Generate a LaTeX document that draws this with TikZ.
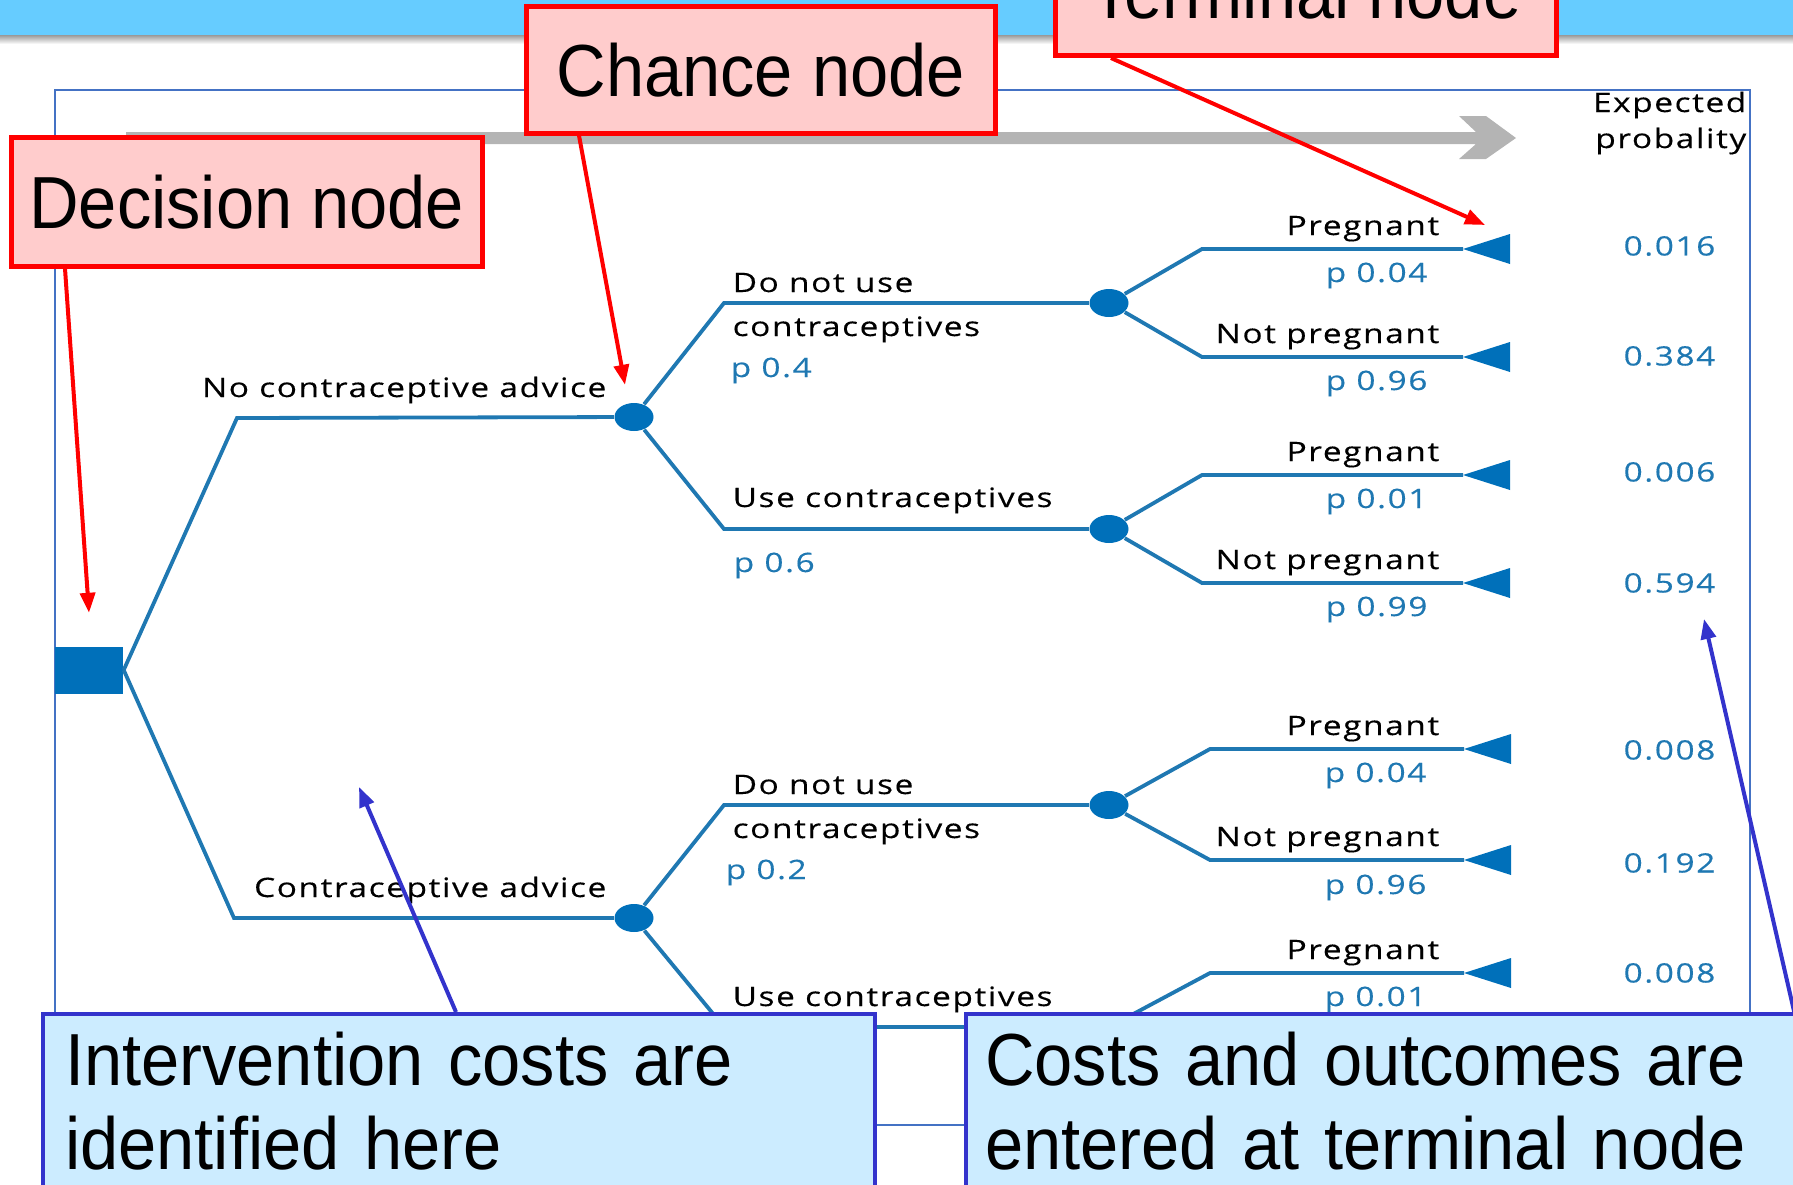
\documentclass[tikz,border=0pt]{standalone}
\usepackage{fontspec}
\setmainfont{Liberation Sans}
\newfontfamily\treefont[FakeStretch=1.25,LetterSpace=6,FakeBold=0.3]{Open Sans}
\newfontfamily\calloutfont[FakeStretch=0.93]{Liberation Sans}
\newcommand\treetext{\treefont\fontsize{7.6}{9}\selectfont}
\usetikzlibrary{shapes.geometric,arrows.meta}
\definecolor{bandblue}{RGB}{102,204,255}
\definecolor{treeblue}{RGB}{31,120,178}
\definecolor{nodeblue}{RGB}{0,112,186}
\definecolor{framebl}{RGB}{68,114,196}
\definecolor{arrowgray}{RGB}{180,180,180}
\definecolor{calloutred}{RGB}{255,204,204}
\definecolor{calloutblue}{RGB}{204,236,255}
\definecolor{borderblue}{RGB}{51,51,204}

\begin{document}
\begin{tikzpicture}
		[x=0.1mm, y=-0.1mm,
		branch/.style={draw=treeblue, line width=0.38mm},
		decision/.style={rectangle, fill=nodeblue, minimum width=6.8mm, minimum height=4.7mm, inner sep=0pt},
		chance/.style={ellipse, fill=nodeblue, minimum width=3.9mm, minimum height=2.8mm, inner sep=0pt},
		lbl/.style={font=\treetext, inner sep=0pt},
		prob/.style={lbl, text=treeblue},
		callout/.style={font=\calloutfont\fontsize{21}{23.9}\selectfont, inner sep=0pt},
		redbox/.style={callout, draw=red, fill=calloutred, line width=1.3pt},
		bluebox/.style={callout, draw=borderblue, fill=calloutblue, line width=1.2pt, align=left, anchor=north west},
		redarrow/.style={red, line width=0.4mm, -{Triangle[length=2mm,width=1.5mm]}},
		bluearrow/.style={borderblue, line width=0.4mm, -{Triangle[length=2mm,width=1.5mm]}}]
		\useasboundingbox (0,0) rectangle (1793,1185);
		\clip (0,0) rectangle (1793,1185);
		
		\fill[bandblue] (0,0) rectangle (1793,35);
		\shade[top color=black!40, bottom color=white] (0,35) rectangle (1793,44);
		\draw[framebl, line width=0.15mm] (55,90) rectangle (1750,1125);
		\fill[arrowgray] (126,132) -- (1476,132) -- (1459,116) -- (1486,116) -- (1516,138)
			-- (1486,159) -- (1459,159) -- (1476,144) -- (126,144) -- cycle;
		
		\node[decision] (dec) at (89,670) {};
		\node[chance] (c1) at (634,417) {};
		\node[chance] (c2) at (634,918) {};
		\node[chance] (c11) at (1109,303) {};
		\node[chance] (c12) at (1109,529) {};
		\node[chance] (c21) at (1109,805) {};
		\node[chance] (c22) at (1109,1027) {};
		\coordinate (t1) at (1463,249);
		\coordinate (t2) at (1463,357);
		\coordinate (t3) at (1463,475);
		\coordinate (t4) at (1463,583);
		\coordinate (t5) at (1464,749);
		\coordinate (t6) at (1464,860);
		\coordinate (t7) at (1464,973);
		
		\draw[branch] (dec.east) -- (237,418) -- (c1);
		\draw[branch] (dec.east) -- (234,918) -- (c2);
		\draw[branch] (c1) -- (724,303) -- (c11);
		\draw[branch] (c1) -- (724,529) -- (c12);
		\draw[branch] (c2) -- (724,805) -- (c21);
		\draw[branch] (c2) -- (724,1027) -- (c22);
		\draw[branch] (c11) -- (1202,249) -- (t1);
		\draw[branch] (c11) -- (1202,357) -- (t2);
		\draw[branch] (c12) -- (1202,475) -- (t3);
		\draw[branch] (c12) -- (1202,583) -- (t4);
		\draw[branch] (c21) -- (1210,749) -- (t5);
		\draw[branch] (c21) -- (1210,860) -- (t6);
		\draw[branch] (c22) -- (1210,973) -- (t7);
		\foreach \t in {t1,t2,t3,t4,t5,t6,t7}
			\fill[nodeblue] (\t) -- ++(47,-15) -- ++(0,30) -- cycle;
		
		\node[lbl, anchor=base east] (noadv) at (607,397) {No contraceptive advice};
		\node[lbl, anchor=base east] (adv) at (607,897) {Contraceptive advice};
		\node[lbl, anchor=base west] (dnu1) at (732,292) {Do not use};
		\node[lbl, anchor=base west] (ctr1) at (732,336) {contraceptives};
		\node[prob, anchor=base west] (p4) at (730,377) {p 0.4};
		\node[lbl, anchor=base west] (use1) at (732,507) {Use contraceptives};
		\node[prob, anchor=base west] (p6) at (733,572) {p 0.6};
		\node[lbl, anchor=base west] (dnu2) at (732,794) {Do not use};
		\node[lbl, anchor=base west] (ctr2) at (732,838) {contraceptives};
		\node[prob, anchor=base west] (p2) at (725,879) {p 0.2};
		\node[lbl, anchor=base west] (use2) at (732,1006) {Use contraceptives};
		
		\node[lbl, anchor=base east] (preg1) at (1440,235) {Pregnant};
		\node[prob, anchor=base west] (pr1) at (1325,282) {p 0.04};
		\node[lbl, anchor=base east] (notp1) at (1440,343) {Not pregnant};
		\node[prob, anchor=base west] (pr2) at (1325,390) {p 0.96};
		\node[lbl, anchor=base east] (preg2) at (1440,461) {Pregnant};
		\node[prob, anchor=base west] (pr3) at (1325,508) {p 0.01};
		\node[lbl, anchor=base east] (notp2) at (1440,569) {Not pregnant};
		\node[prob, anchor=base west] (pr4) at (1325,616) {p 0.99};
		\node[lbl, anchor=base east] (preg3) at (1440,735) {Pregnant};
		\node[prob, anchor=base west] (pr5) at (1324,782) {p 0.04};
		\node[lbl, anchor=base east] (notp3) at (1440,846) {Not pregnant};
		\node[prob, anchor=base west] (pr6) at (1324,894) {p 0.96};
		\node[lbl, anchor=base east] (preg4) at (1440,959) {Pregnant};
		\node[prob, anchor=base west] (pr7) at (1324,1006) {p 0.01};
		
		\node[lbl, anchor=base east] (exp1) at (1747,112) {Expected};
		\node[lbl, anchor=base east] (exp2) at (1747,148) {probality};
		\node[prob, anchor=east] (v1) at (1716,246) {0.016};
		\node[prob, anchor=east] (v2) at (1716,356) {0.384};
		\node[prob, anchor=east] (v3) at (1716,472) {0.006};
		\node[prob, anchor=east] (v4) at (1716,583) {0.594};
		\node[prob, anchor=east] (v5) at (1716,750) {0.008};
		\node[prob, anchor=east] (v6) at (1716,863) {0.192};
		\node[prob, anchor=east] (v7) at (1716,973) {0.008};
		
		\node[redbox, minimum width=47.1mm, minimum height=12.9mm, anchor=north west] (decbox) at (9,135) {Decision node};
		\node[redbox, minimum width=46.9mm, minimum height=12.7mm, anchor=north west] (chancebox) at (524,4) {Chance node};
		\node[redbox, minimum width=50.1mm, minimum height=12.8mm, anchor=south west] (termbox) at (1053,58) {Terminal node};
		\node[bluebox, text width=78.8mm, inner xsep=2.2mm, minimum height=17.4mm] (intbox) at (41,1012) {Intervention costs are\\identified here};
		\node[bluebox, text width=80mm, inner xsep=1.9mm, minimum height=17.4mm] (costbox) at (964,1012) {Costs and outcomes are\\entered at terminal node};
		\coordinate (advpt) at (359,787);
		\coordinate (valpt) at (1704,619);
		
		\draw[redarrow] ([xshift=5.6mm]decbox.south west) -- ([yshift=3.3mm]dec.north);
		\draw[redarrow] ([xshift=5.5mm]chancebox.south west) -- ([shift={(-0.9mm,1.75mm)}]c1.north);
		\draw[redarrow] ([xshift=5.8mm]termbox.south west) -- ([shift={(2.2mm,2.4mm)}]t1);
		\draw[bluearrow] ([xshift=41.5mm]intbox.north west) -- (advpt);
		\draw[bluearrow] ([xshift=-1.2mm]costbox.north east) -- (valpt);
		\end{tikzpicture}
\end{document}
